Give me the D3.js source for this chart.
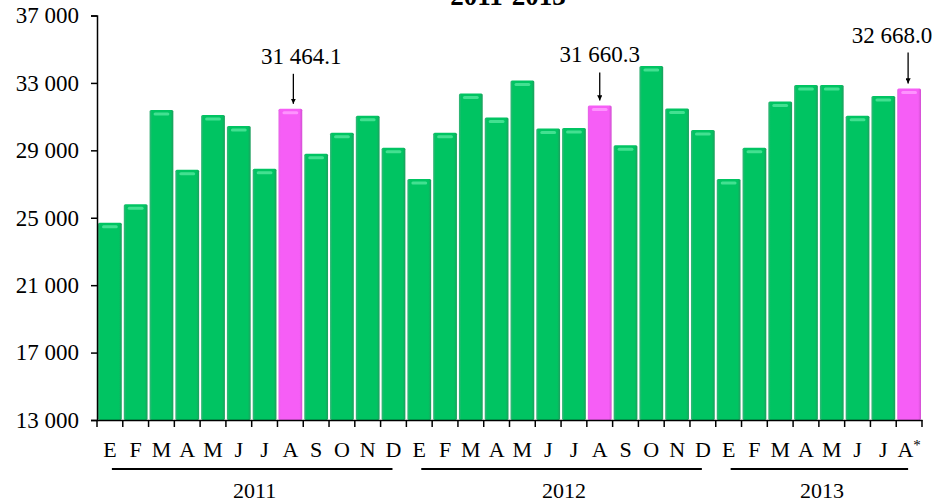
<!DOCTYPE html>
<html>
<head>
<meta charset="utf-8">
<script src="https://cdn.jsdelivr.net/npm/d3@7"></script>
<style>
  body { margin: 0; background: #fff; }
  svg { display: block; font-family: "Times New Roman", "Liberation Serif", serif; }
</style>
</head>
<body>
<div id="chart"></div>
<script>
var months = ["E","F","M","A","M","J","J","A","S","O","N","D",
              "E","F","M","A","M","J","J","A","S","O","N","D",
              "E","F","M","A","M","J","J","A"];
var values = [24700, 25800, 31400, 27850, 31100, 30450, 27900, 31464.1, 28800, 30050, 31050, 29150,
              27300, 30050, 32370, 30950, 33150, 30300, 30320, 31660.3, 29300, 34000, 31480, 30200,
              27300, 29150, 31900, 32880, 32880, 31050, 32230, 32668.0];
var highlighted = [7, 19, 31];
var annotationLabels = ["31 464.1", "31 660.3", "32 668.0"];
var years = ["2011", "2012", "2013"];
var yearStart = [0, 12, 24];
var yearEnd = [11, 23, 31];
var yTicks = [13000, 17000, 21000, 25000, 29000, 33000, 37000];

var chartWidth = 936, chartHeight = 504;
var plotLeft = 97, plotRight = 922, plotTop = 15.5, plotBottom = 420;

var svg = d3.select("#chart")
  .append("svg")
  .attr("width", chartWidth)
  .attr("height", chartHeight);

var defs = svg.append("defs");
function barGradient(id, edge, mid, edge2) {
  var g = defs.append("linearGradient").attr("id", id)
    .attr("x1", "0%").attr("x2", "100%").attr("y1", "0%").attr("y2", "0%");
  g.append("stop").attr("offset", "0%").attr("stop-color", edge);
  g.append("stop").attr("offset", "10%").attr("stop-color", mid);
  g.append("stop").attr("offset", "88%").attr("stop-color", mid);
  g.append("stop").attr("offset", "100%").attr("stop-color", edge2);
}
barGradient("gGreen", "#3cb27a", "#00c462", "#1f9e5e");
barGradient("gPink", "#e466e4", "#f65ef6", "#d24fd2");

var x = d3.scaleBand()
  .domain(d3.range(months.length))
  .range([plotLeft, plotRight])
  .padding(0);

var y = d3.scaleLinear()
  .domain([13000, 37000])
  .range([plotBottom, plotTop]);

var fr = d3.formatLocale({ decimal: ".", thousands: " ", grouping: [3], currency: ["", ""] });

// bars
var bars = svg.append("g").selectAll("g")
  .data(values)
  .enter()
  .append("g");

bars.append("rect")
  .attr("x", function (d, i) { return x(i) + 1; })
  .attr("y", function (d) { return y(d); })
  .attr("width", x.bandwidth() - 2)
  .attr("height", function (d) { return plotBottom - y(d); })
  .attr("rx", 1.5)
  .attr("fill", function (d, i) { return highlighted.indexOf(i) >= 0 ? "url(#gPink)" : "url(#gGreen)"; });

bars.append("rect")
  .attr("x", function (d, i) { return x(i) + 5; })
  .attr("y", function (d) { return y(d) + 2.5; })
  .attr("width", x.bandwidth() - 10)
  .attr("height", 3)
  .attr("rx", 1.5)
  .attr("fill", function (d, i) { return highlighted.indexOf(i) >= 0 ? "#ff9cff" : "#4fe59a"; })
  .attr("opacity", 0.85);

// y axis
var yAxis = svg.append("g")
  .attr("transform", "translate(" + plotLeft + ",0)")
  .call(d3.axisLeft(y).tickValues(yTicks).tickSize(6).tickPadding(12)
    .tickFormat(fr.format(",")));
yAxis.selectAll("text").attr("font-size", 23).attr("fill", "#000")
  .style("font-family", "'Times New Roman', 'Liberation Serif', serif");
yAxis.selectAll("line, path").attr("stroke", "#000").attr("stroke-width", 1.5);

// x axis
var xAxis = svg.append("g")
  .attr("transform", "translate(0," + plotBottom + ")")
  .call(d3.axisBottom(x).tickSize(0).tickPadding(21)
    .tickFormat(function (i) { return months[i]; }));
xAxis.select(".domain").attr("stroke", "#000").attr("stroke-width", 1.5);
xAxis.selectAll("text").attr("font-size", 22).attr("fill", "#000")
  .style("font-family", "'Times New Roman', 'Liberation Serif', serif");
xAxis.selectAll(".tick").filter(function (i) { return i === months.length - 1; })
  .select("text")
  .append("tspan")
  .attr("font-size", 15)
  .attr("dy", "-0.45em")
  .text("*");

var boundaries = d3.range(months.length).map(function (i) { return x(i); }).concat([plotRight]);
xAxis.selectAll(".bnd")
  .data(boundaries)
  .enter()
  .append("line")
  .attr("x1", function (d) { return d; })
  .attr("x2", function (d) { return d; })
  .attr("y1", 0)
  .attr("y2", 7)
  .attr("stroke", "#000")
  .attr("stroke-width", 1.5);

// year groups
var yearG = svg.append("g").selectAll("g")
  .data(years)
  .enter()
  .append("g");
yearG.append("line")
  .attr("x1", function (d, i) { return x(yearStart[i]) + x.bandwidth() / 2 + 2; })
  .attr("x2", function (d, i) { return x(yearEnd[i]) + x.bandwidth() / 2 - 1; })
  .attr("y1", 469)
  .attr("y2", 469)
  .attr("stroke", "#000")
  .attr("stroke-width", 2);
yearG.append("text")
  .attr("x", function (d, i) { return (x(yearStart[i]) + x(yearEnd[i]) + x.bandwidth()) / 2 + 3; })
  .attr("y", 498)
  .attr("text-anchor", "middle")
  .attr("font-size", 22)
  .text(function (d) { return d; });

// annotations
var textDx = [11, 0, -17], arrowDx = [3, 0, -1], textUp = [45, 43, 46];
defs.append("marker").attr("id", "arrow")
  .attr("viewBox", "0 0 10 10").attr("refX", 10).attr("refY", 5)
  .attr("markerWidth", 4).attr("markerHeight", 4).attr("orient", "auto")
  .append("path").attr("d", "M0,0L10,5L0,10z").attr("fill", "#000");

var ann = svg.append("g").selectAll("g")
  .data(highlighted)
  .enter()
  .append("g");
ann.append("text")
  .attr("x", function (d, k) { return x(d) + x.bandwidth() / 2 + textDx[k]; })
  .attr("y", function (d, k) { return y(values[d]) - textUp[k]; })
  .attr("text-anchor", "middle")
  .attr("font-size", 23)
  .text(function (d, k) { return annotationLabels[k]; });
ann.append("line")
  .attr("x1", function (d, k) { return x(d) + x.bandwidth() / 2 + arrowDx[k]; })
  .attr("x2", function (d, k) { return x(d) + x.bandwidth() / 2 + arrowDx[k]; })
  .attr("y1", function (d, k) { return y(values[d]) - textUp[k] + 10; })
  .attr("y2", function (d) { return y(values[d]) - 5; })
  .attr("stroke", "#000")
  .attr("stroke-width", 1.3)
  .attr("marker-end", "url(#arrow)");

// title (clipped at the top edge)
svg.append("text")
  .attr("x", 508)
  .attr("y", 5)
  .attr("text-anchor", "middle")
  .attr("font-size", 27)
  .attr("font-weight", "bold")
  .text("2011-2013");
</script>
</body>
</html>
